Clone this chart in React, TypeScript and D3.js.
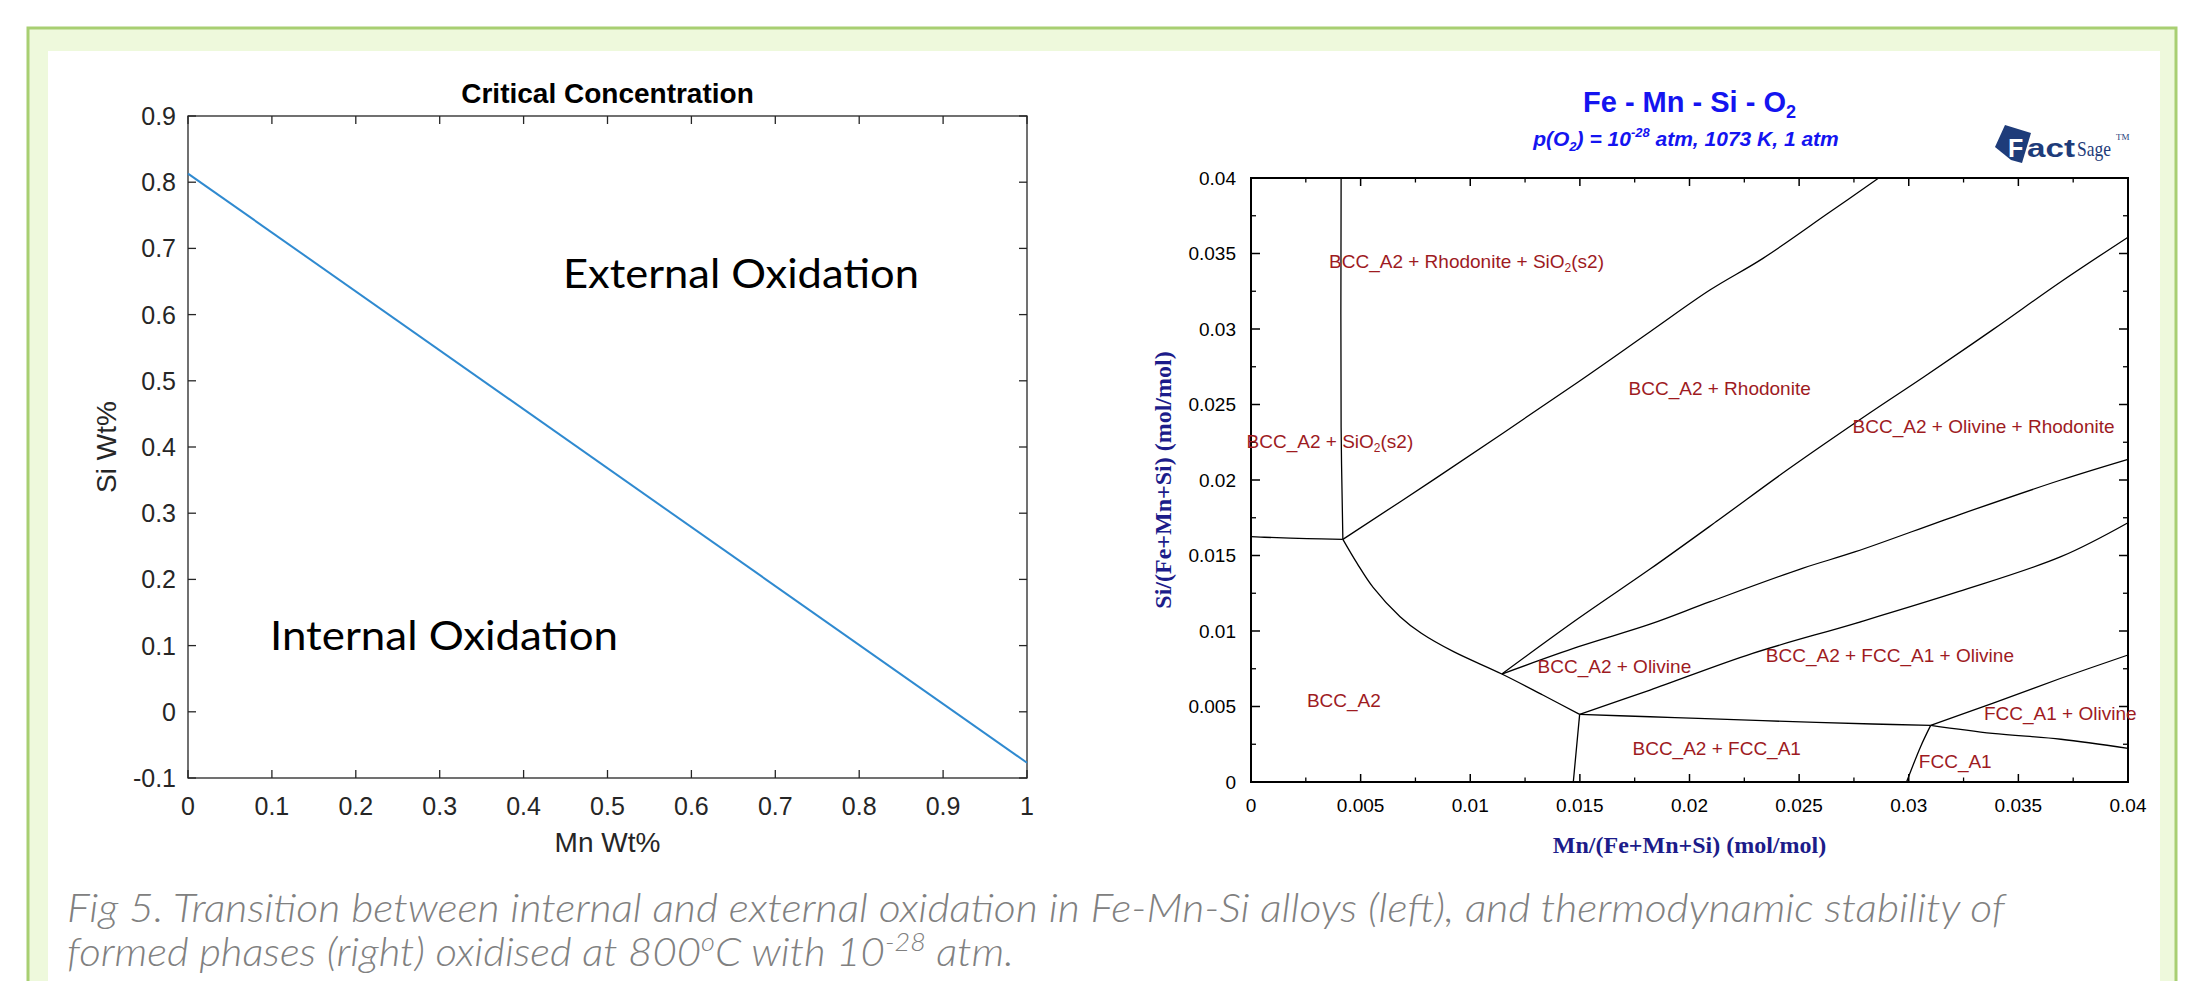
import React from 'react';
import * as d3 from 'd3';

// ---- left chart data (MATLAB plot) ----
const mnWt = [0, 1];
const siWt = [0.813, -0.077];
const leftXTicks = [0, 0.1, 0.2, 0.3, 0.4, 0.5, 0.6, 0.7, 0.8, 0.9, 1];
const leftYTicks = [-0.1, 0, 0.1, 0.2, 0.3, 0.4, 0.5, 0.6, 0.7, 0.8, 0.9];

// ---- right chart data (FactSage phase diagram), [Mn, Si] mol fractions ----
const lineSiO2Vertical = [[0.00411, 0.04], [0.00411, 0.0235], [0.00419, 0.01607]];
const lineSiO2Horizontal = [[0, 0.01625], [0.00061, 0.01621], [0.00256, 0.01612], [0.00419, 0.01607]];
const lineRhodoniteSiO2 = [[0.00419, 0.01607], [0.00842, 0.02011], [0.01494, 0.02651], [0.0182, 0.02982], [0.02093, 0.03258], [0.02335, 0.03468], [0.02632, 0.03766], [0.02863, 0.04]];
const lineOlivineRhodonite = [[0.01144, 0.00715], [0.01494, 0.01084], [0.0182, 0.0141], [0.02132, 0.01735], [0.02445, 0.02066], [0.0282, 0.02442], [0.0307, 0.02684], [0.03382, 0.02994], [0.03694, 0.03313], [0.04, 0.03608]];
const lineOlivineUpper = [[0.01144, 0.00715], [0.01494, 0.00896], [0.0182, 0.01045], [0.02094, 0.01194], [0.02515, 0.01415], [0.02757, 0.01525], [0.03226, 0.01768], [0.03694, 0.02], [0.04, 0.02137]];
const lineFccOlivine = [[0.01499, 0.00448], [0.0182, 0.00609], [0.02288, 0.00852], [0.02757, 0.01051], [0.03226, 0.0126], [0.03694, 0.01492], [0.04, 0.01717]];
const lineBccCurve = [[0.00419, 0.01607], [0.00484, 0.01448], [0.00557, 0.01289], [0.0068, 0.01095], [0.00777, 0.00985], [0.00924, 0.00863], [0.01144, 0.00715], [0.01331, 0.00576], [0.01499, 0.00448]];
const lineBccFccLeft = [[0.01499, 0.00448], [0.0147, 0]];
const lineBccFccTop = [[0.01499, 0.00448], [0.0182, 0.00432], [0.02039, 0.00422], [0.02335, 0.00406], [0.02835, 0.00384], [0.031, 0.00375]];
const lineFccLower = [[0.031, 0.00375], [0.03382, 0.00322], [0.03694, 0.00283], [0.04, 0.00223]];
const lineFccLeft = [[0.031, 0.00375], [0.03054, 0.00234], [0.0299, 0]];
const lineFccOlivineUpper = [[0.031, 0.00375], [0.03382, 0.00521], [0.03694, 0.00687], [0.04, 0.00841]];
const phaseLines = [
  lineSiO2Vertical, lineSiO2Horizontal, lineRhodoniteSiO2, lineOlivineRhodonite,
  lineOlivineUpper, lineFccOlivine, lineBccCurve, lineBccFccLeft, lineBccFccTop,
  lineFccLower, lineFccLeft, lineFccOlivineUpper,
];

// phase labels: text before/after the SiO2 subscript, and anchor in data units
const phaseLabels = [
  { pre: 'BCC_A2 + Rhodonite + SiO', post: '(s2)', sub: true, mn: 0.00356, si: 0.03402 },
  { pre: 'BCC_A2 + SiO', post: '(s2)', sub: true, mn: -0.0002, si: 0.0221 },
  { pre: 'BCC_A2 + Rhodonite', post: '', sub: false, mn: 0.01722, si: 0.02563 },
  { pre: 'BCC_A2 + Olivine + Rhodonite', post: '', sub: false, mn: 0.02744, si: 0.0231 },
  { pre: 'BCC_A2 + Olivine', post: '', sub: false, mn: 0.01307, si: 0.0072 },
  { pre: 'BCC_A2 + FCC_A1 + Olivine', post: '', sub: false, mn: 0.02348, si: 0.00797 },
  { pre: 'BCC_A2', post: '', sub: false, mn: 0.00255, si: 0.00499 },
  { pre: 'BCC_A2 + FCC_A1', post: '', sub: false, mn: 0.0174, si: 0.00179 },
  { pre: 'FCC_A1 + Olivine', post: '', sub: false, mn: 0.03343, si: 0.00411 },
  { pre: 'FCC_A1', post: '', sub: false, mn: 0.03046, si: 0.00091 },
];

const rightMajorTicks = [0, 0.005, 0.01, 0.015, 0.02, 0.025, 0.03, 0.035, 0.04];
const rightMinorTicks = [0.0025, 0.0075, 0.0125, 0.0175, 0.0225, 0.0275, 0.0325, 0.0375];
const rightTickLabels = ['0', '0.005', '0.01', '0.015', '0.02', '0.025', '0.03', '0.035', '0.04'];

const SANS = 'Liberation Sans, Arial, Helvetica, sans-serif';
const SERIF = 'Liberation Serif, Times New Roman, serif';
const CALIBRI = 'Lato, Open Sans, sans-serif';

// MATLAB writes a plain hyphen for negative ticks
const fmtLeft = (v: number) => d3.format('~g')(v).replace('\u2212', '-');

export default function App() {
  const xL = d3.scaleLinear().domain([0, 1]).range([188, 1027]);
  const yL = d3.scaleLinear().domain([-0.1, 0.9]).range([778, 116]);
  const xR = d3.scaleLinear().domain([0, 0.04]).range([1251, 2128]);
  const yR = d3.scaleLinear().domain([0, 0.04]).range([782, 178]);

  const leftLine = d3.line<number>().x((d, i) => xL(mnWt[i])).y(d => yL(d));
  const phaseLine = d3.line<number[]>().x(d => xR(d[0])).y(d => yR(d[1])).curve(d3.curveCatmullRom.alpha(0.5));

  const axisL = '#262626';
  const tickL = 8;

  return (
    <div style={{ position: 'absolute', left: 0, top: 0, width: 2187, height: 981, overflow: 'hidden' }}>
      <svg width={2187} height={981} style={{ display: 'block' }}>
        {/* frame */}
        <rect x={0} y={0} width={2187} height={981} fill="#ffffff" />
        <rect x={28} y={28} width={2148} height={960} fill="#eef9dc" stroke="#a8cf72" strokeWidth={3} />
        <rect x={48} y={51} width={2112} height={940} fill="#ffffff" />

        {/* ===== left chart ===== */}
        <g>
          <rect x={xL(0)} y={yL(0.9)} width={xL(1) - xL(0)} height={yL(-0.1) - yL(0.9)} fill="none" stroke={axisL} strokeWidth={1.3} />
          {leftXTicks.map(t => (
            <g key={'lx' + t}>
              <line x1={xL(t)} x2={xL(t)} y1={yL(-0.1)} y2={yL(-0.1) - tickL} stroke={axisL} strokeWidth={1.3} />
              <line x1={xL(t)} x2={xL(t)} y1={yL(0.9)} y2={yL(0.9) + tickL} stroke={axisL} strokeWidth={1.3} />
              <text x={xL(t)} y={815} textAnchor="middle" fontFamily={SANS} fontSize={25} fill={axisL}>{fmtLeft(t)}</text>
            </g>
          ))}
          {leftYTicks.map(t => (
            <g key={'ly' + t}>
              <line x1={xL(0)} x2={xL(0) + tickL} y1={yL(t)} y2={yL(t)} stroke={axisL} strokeWidth={1.3} />
              <line x1={xL(1)} x2={xL(1) - tickL} y1={yL(t)} y2={yL(t)} stroke={axisL} strokeWidth={1.3} />
              <text x={176} y={yL(t)} dy="0.36em" textAnchor="end" fontFamily={SANS} fontSize={25} fill={axisL}>{fmtLeft(t)}</text>
            </g>
          ))}
          <path d={leftLine(siWt) || ''} fill="none" stroke="#2f8ad0" strokeWidth={2} />
          <text x={(xL(0) + xL(1)) / 2} y={103} textAnchor="middle" fontFamily={SANS} fontWeight="bold" fontSize={28} fill="#000">Critical Concentration</text>
          <text x={(xL(0) + xL(1)) / 2} y={852} textAnchor="middle" fontFamily={SANS} fontSize={28} fill={axisL}>Mn Wt%</text>
          <text transform={`translate(116, ${(yL(-0.1) + yL(0.9)) / 2}) rotate(-90)`} textAnchor="middle" fontFamily={SANS} fontSize={28} fill={axisL}>Si Wt%</text>
          <text x={563} y={288} fontFamily={CALIBRI} fontSize={40} fill="#000" textLength={356} lengthAdjust="spacingAndGlyphs">External Oxidation</text>
          <text x={270} y={650} fontFamily={CALIBRI} fontSize={40} fill="#000" textLength={348} lengthAdjust="spacingAndGlyphs">Internal Oxidation</text>
        </g>

        {/* ===== right chart ===== */}
        <g>
          {phaseLines.map((pts, i) => (
            <path key={'p' + i} d={phaseLine(pts) || ''} fill="none" stroke="#000" strokeWidth={1.3} />
          ))}
          <rect x={xR(0)} y={yR(0.04)} width={xR(0.04) - xR(0)} height={yR(0) - yR(0.04)} fill="none" stroke="#000" strokeWidth={2} />
          {rightMajorTicks.map((t, i) => (
            <g key={'rM' + t}>
              <line x1={xR(t)} x2={xR(t)} y1={yR(0)} y2={yR(0) - 8} stroke="#000" strokeWidth={1.5} />
              <line x1={xR(t)} x2={xR(t)} y1={yR(0.04)} y2={yR(0.04) + 8} stroke="#000" strokeWidth={1.5} />
              <line x1={xR(0)} x2={xR(0) + 9} y1={yR(t)} y2={yR(t)} stroke="#000" strokeWidth={1.5} />
              <line x1={xR(0.04)} x2={xR(0.04) - 9} y1={yR(t)} y2={yR(t)} stroke="#000" strokeWidth={1.5} />
              <text x={xR(t)} y={812} textAnchor="middle" fontFamily={SANS} fontSize={19} fill="#000">{rightTickLabels[i]}</text>
              <text x={1236} y={yR(t)} dy="0.36em" textAnchor="end" fontFamily={SANS} fontSize={19} fill="#000">{rightTickLabels[i]}</text>
            </g>
          ))}
          {rightMinorTicks.map(t => (
            <g key={'rm' + t}>
              <line x1={xR(t)} x2={xR(t)} y1={yR(0)} y2={yR(0) - 4.5} stroke="#000" strokeWidth={1.3} />
              <line x1={xR(t)} x2={xR(t)} y1={yR(0.04)} y2={yR(0.04) + 4.5} stroke="#000" strokeWidth={1.3} />
              <line x1={xR(0)} x2={xR(0) + 5} y1={yR(t)} y2={yR(t)} stroke="#000" strokeWidth={1.3} />
              <line x1={xR(0.04)} x2={xR(0.04) - 5} y1={yR(t)} y2={yR(t)} stroke="#000" strokeWidth={1.3} />
            </g>
          ))}
          {phaseLabels.map((l, i) => (
            <text key={'l' + i} x={xR(l.mn)} y={yR(l.si)} fontFamily={SANS} fontSize={19} fill="#9e1b1f">
              {l.pre}
              {l.sub && <tspan dy={4} fontSize={12}>2</tspan>}
              {l.sub && <tspan dy={-4}>{l.post}</tspan>}
            </text>
          ))}

          <text x={(xR(0) + xR(0.04)) / 2} y={112} textAnchor="middle" fontFamily={SANS} fontWeight="bold" fontSize={29} fill="#1414f0">
            Fe - Mn - Si - O<tspan dy={6} fontSize={18}>2</tspan>
          </text>
          <text x={1686} y={146} textAnchor="middle" fontFamily={SANS} fontWeight="bold" fontStyle="italic" fontSize={21} fill="#1414f0">
            p(O<tspan dy={5} fontSize={13}>2</tspan><tspan dy={-5}>) = 10</tspan><tspan dy={-9} fontSize={13}>-28</tspan><tspan dy={9}> atm, 1073 K, 1 atm</tspan>
          </text>
          <text x={(xR(0) + xR(0.04)) / 2} y={853} textAnchor="middle" fontFamily={SERIF} fontWeight="bold" fontSize={24} fill="#1c1c8a">Mn/(Fe+Mn+Si) (mol/mol)</text>
          <text transform={`translate(1171, ${(yR(0) + yR(0.04)) / 2}) rotate(-90)`} textAnchor="middle" fontFamily={SERIF} fontWeight="bold" fontSize={24} fill="#1c1c8a">Si/(Fe+Mn+Si) (mol/mol)</text>

          {/* FactSage logo */}
          <g>
            <polygon points="1995,147 2005,125 2031,133 2022,163 2011,160" fill="#1e3c7a" />
            <text x={2008} y={157} fontFamily={SANS} fontWeight="900" fontSize={25} fill="#ffffff">F</text>
            <text x={2027} y={157} fontFamily={SANS} fontWeight="900" fontSize={25} fill="#1e3c7a" textLength={48} lengthAdjust="spacingAndGlyphs">act</text>
            <text x={2077} y={156} fontFamily={SERIF} fontSize={22} fill="#1e3c7a" textLength={34} lengthAdjust="spacingAndGlyphs">Sage</text>
            <text x={2116} y={140} fontFamily={SERIF} fontSize={9} fill="#1e3c7a">TM</text>
          </g>
        </g>

        {/* caption */}
        <text x={67} y={922} fontFamily={CALIBRI} fontStyle="italic" fontWeight={300} fontSize={39} fill="#808080" textLength={1938} lengthAdjust="spacingAndGlyphs">
          Fig 5. Transition between internal and external oxidation in Fe-Mn-Si alloys (left), and thermodynamic stability of
        </text>
        <text x={67} y={966} fontFamily={CALIBRI} fontStyle="italic" fontWeight={300} fontSize={39} fill="#808080" textLength={947} lengthAdjust="spacingAndGlyphs">
          formed phases (right) oxidised at 800<tspan dy={-15} fontSize={25}>o</tspan><tspan dy={15}>C with 10</tspan><tspan dy={-15} fontSize={25}>-28</tspan><tspan dy={15}> atm.</tspan>
        </text>
      </svg>
    </div>
  );
}
